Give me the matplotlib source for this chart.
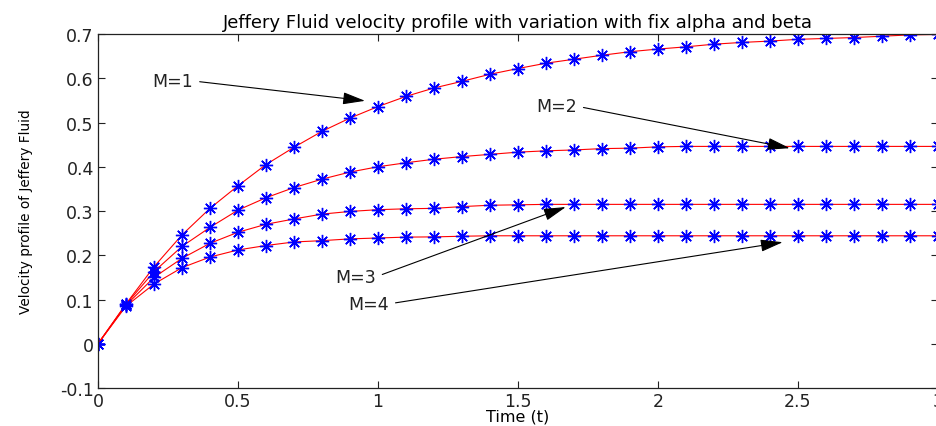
import numpy as np
import matplotlib
matplotlib.use("Agg")
import matplotlib.pyplot as plt

# tiempo
t = [0.0, 0.1, 0.2, 0.3, 0.4, 0.5, 0.6, 0.7, 0.8, 0.9, 1.0,
     1.1, 1.2, 1.3, 1.4, 1.5, 1.6, 1.7, 1.8, 1.9, 2.0,
     2.1, 2.2, 2.3, 2.4, 2.5, 2.6, 2.7, 2.8, 2.9, 3.0]

# perfiles de velocidad
u_M1 = [0.0, 0.090, 0.174, 0.246, 0.306, 0.357, 0.405, 0.444, 0.480, 0.510, 0.536,
        0.559, 0.578, 0.593, 0.609, 0.622, 0.634, 0.643, 0.652, 0.660, 0.666,
        0.671, 0.677, 0.681, 0.684, 0.688, 0.690, 0.692, 0.695, 0.698, 0.699]
u_M2 = [0.0, 0.089, 0.163, 0.220, 0.263, 0.302, 0.330, 0.353, 0.372, 0.388, 0.400,
        0.409, 0.417, 0.423, 0.428, 0.433, 0.436, 0.438, 0.441, 0.442, 0.445,
        0.446, 0.446, 0.446, 0.446, 0.446, 0.446, 0.446, 0.446, 0.446, 0.446]
u_M3 = [0.0, 0.087, 0.150, 0.193, 0.227, 0.252, 0.270, 0.282, 0.293, 0.299, 0.303,
        0.305, 0.306, 0.310, 0.313, 0.314, 0.315, 0.315, 0.315, 0.315, 0.315,
        0.315, 0.315, 0.315, 0.315, 0.315, 0.315, 0.315, 0.315, 0.315, 0.315]
u_M4 = [0.0, 0.085, 0.135, 0.172, 0.196, 0.212, 0.222, 0.230, 0.233, 0.237, 0.239,
        0.241, 0.2415, 0.243, 0.244, 0.244, 0.244, 0.244, 0.244, 0.244, 0.244,
        0.244, 0.244, 0.244, 0.244, 0.244, 0.244, 0.244, 0.244, 0.244, 0.244]

etiquetas = ["M=1", "M=2", "M=3", "M=4"]
texto_xy = [(0.193, 0.594), (1.564, 0.537), (0.846, 0.151), (0.893, 0.090)]
flecha_xy = [(0.954, 0.549), (2.471, 0.442), (1.671, 0.309), (2.446, 0.2295)]

fig = plt.figure(figsize=(9.36, 4.27), dpi=100)
ax = fig.add_axes([0.1047, 0.089, 0.8973, 0.829])

asterisco = (8, 2, 0)
for u in [u_M1, u_M2, u_M3, u_M4]:
    ax.plot(t, u, "-", color="#ff0000", lw=0.8)
    ax.plot(t, u, linestyle="none", marker=asterisco, color="#0000ff",
            markersize=9.5, markeredgewidth=1.0)

for lab, txy, fxy in zip(etiquetas, texto_xy, flecha_xy):
    ax.annotate(lab, xy=fxy, xytext=txy, ha="left", va="center", fontsize=12.5,
                color="#222222",
                arrowprops=dict(arrowstyle="-|>,head_length=1.1,head_width=0.3",
                                color="black", lw=0.8, relpos=(1.0, 0.5),
                                shrinkA=3, shrinkB=0))

ax.set_xlim(0, 3)
ax.set_ylim(-0.1, 0.7)
ax.set_xticks([0, 0.5, 1, 1.5, 2, 2.5, 3])
ax.set_xticklabels(["0", "0.5", "1", "1.5", "2", "2.5", "3"])
ax.set_yticks([-0.1, 0, 0.1, 0.2, 0.3, 0.4, 0.5, 0.6, 0.7])
ax.set_yticklabels(["-0.1", "0", "0.1", "0.2", "0.3", "0.4", "0.5", "0.6", "0.7"])
ax.tick_params(direction="in", length=5, width=0.8, top=True, right=True,
               labelsize=12.5, pad=3, colors="#222222")
for s in ax.spines.values():
    s.set_linewidth(0.9)
    s.set_color("#222222")

ax.set_title("Jeffery Fluid velocity profile with variation with fix alpha and beta",
             fontsize=13, pad=5)
ax.set_xlabel("Time (t)", fontsize=11.5)
ax.xaxis.set_label_coords(0.5, -0.058)
ax.set_ylabel("Velocity profile of Jeffery Fluid", fontsize=9.8)
ax.yaxis.set_label_coords(-0.077, 0.5)

fig.savefig("out.png", dpi=100)
